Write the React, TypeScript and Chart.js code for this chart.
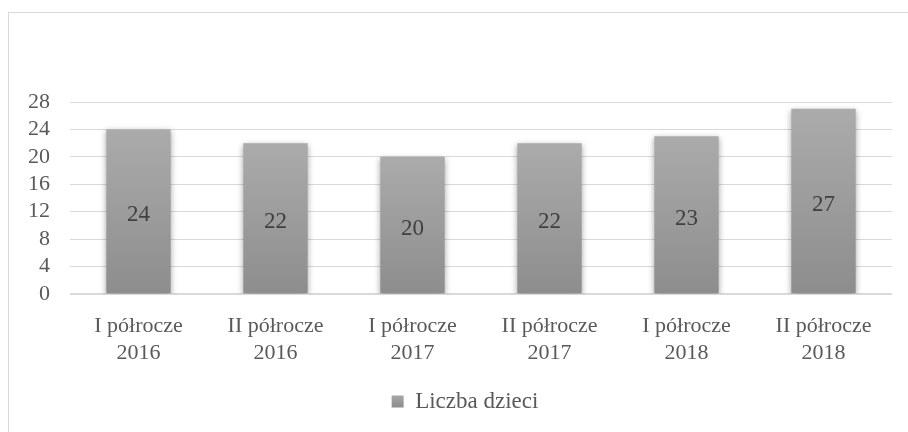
import React, { useEffect, useRef } from "react";
import { Chart, registerables } from "chart.js";

Chart.register(...registerables);

const categories: string[][] = [
  ["I półrocze", "2016"],
  ["II półrocze", "2016"],
  ["I półrocze", "2017"],
  ["II półrocze", "2017"],
  ["I półrocze", "2018"],
  ["II półrocze", "2018"],
];
const values: number[] = [24, 22, 20, 22, 23, 27];
const seriesName = "Liczba dzieci";
const yMin = 0;
const yMax = 28;
const yStep = 4;

const FONT = "'Liberation Serif', 'Times New Roman', serif";
Chart.defaults.font.family = FONT;

const shadowPlugin = {
  id: "barShadow",
  beforeDatasetDraw(chart: any) {
    const c = chart.ctx;
    c.save();
    c.shadowColor = "rgba(0,0,0,0.35)";
    c.shadowBlur = 6;
    c.shadowOffsetX = 0;
    c.shadowOffsetY = 2;
  },
  afterDatasetDraw(chart: any) {
    chart.ctx.restore();
  },
};

const legendShiftPlugin = {
  id: "legendShift",
  afterLayout(chart: any) {
    const lg = chart.legend;
    if (lg) {
      lg.left += 38;
    }
  },
};

const labelPlugin = {
  id: "valueLabels",
  afterDatasetsDraw(chart: any) {
    const c = chart.ctx;
    const meta = chart.getDatasetMeta(0);
    c.save();
    c.font = `23px ${FONT}`;
    c.fillStyle = "#404040";
    c.textAlign = "center";
    c.textBaseline = "middle";
    meta.data.forEach((el: any, i: number) => {
      const v = chart.data.datasets[0].data[i];
      c.fillText(String(v), el.x, (el.y + el.base) / 2 + 4);
    });
    c.restore();
  },
};

export default function App() {
  const ref = useRef<HTMLCanvasElement>(null);

  useEffect(() => {
    if (!ref.current) return;
    const chart = new Chart(ref.current, {
      type: "bar",
      data: {
        labels: categories,
        datasets: [
          {
            label: seriesName,
            data: values,
            backgroundColor: (ctx: any) => {
              const ch = ctx.chart;
              if (ctx.type !== "data" || !ch.chartArea) return "#9c9c9c";
              const ys = ch.scales.y;
              const top = ys.getPixelForValue(ctx.raw);
              const bottom = ys.getPixelForValue(0);
              const g = ch.ctx.createLinearGradient(0, top, 0, bottom);
              g.addColorStop(0, "#ababab");
              g.addColorStop(1, "#8d8d8d");
              return g;
            },
            borderWidth: 0,
            categoryPercentage: 0.94,
            barPercentage: 0.5,
          },
        ],
      },
      options: {
        responsive: false,
        maintainAspectRatio: false,
        animation: false,
        font: { family: FONT },
        layout: { padding: { top: 102, right: 16, bottom: 9, left: 0 } },
        plugins: {
          tooltip: { enabled: false },
          legend: {
            position: "bottom",
            labels: {
              boxWidth: 12,
              boxHeight: 12,
              padding: 10,
              color: "#595959",
              font: { family: FONT, size: 23 },
              generateLabels: (chart: any) => {
                const c = chart.ctx;
                const g = c.createLinearGradient(0, 394, 0, 407);
                g.addColorStop(0, "#ababab");
                g.addColorStop(1, "#8d8d8d");
                return [
                  {
                    text: seriesName,
                    fillStyle: g,
                    strokeStyle: "rgba(0,0,0,0)",
                    lineWidth: 0,
                    hidden: false,
                    datasetIndex: 0,
                    fontColor: "#595959",
                  },
                ];
              },
            },
          },
        },
        scales: {
          x: {
            grid: { display: false, drawTicks: false },
            border: { display: false },
            ticks: {
              color: "#595959",
              padding: 18,
              font: { family: FONT, size: 22, lineHeight: 1.25 },
              maxRotation: 0,
              autoSkip: false,
            },
            afterFit: (s: any) => {
              s.height = 86;
            },
          },
          y: {
            min: yMin,
            max: yMax,
            grid: {
              color: "#d9d9d9",
              lineWidth: (ctx: any) => (ctx.tick && ctx.tick.value === 0 ? 2 : 1),
              drawTicks: false,
            },
            border: { display: false },
            ticks: {
              stepSize: yStep,
              autoSkip: false,
              color: "#595959",
              padding: 20,
              font: { family: FONT, size: 22 },
            },
            afterFit: (s: any) => {
              s.width = 70;
            },
          },
        },
      },
      plugins: [shadowPlugin, labelPlugin, legendShiftPlugin],
    });
    return () => chart.destroy();
  }, []);

  return (
    <div
      style={{
        position: "fixed",
        left: 0,
        top: 0,
        width: 908,
        height: 432,
        background: "#ffffff",
        overflow: "hidden",
      }}
    >
      <div
        style={{
          position: "absolute",
          left: 8,
          top: 12,
          width: 1000,
          height: 1000,
          borderLeft: "1px solid #d9d9d9",
          borderTop: "1px solid #d9d9d9",
        }}
      />
      <canvas
        ref={ref}
        width={908}
        height={432}
        style={{ position: "absolute", left: 0, top: 0, width: 908, height: 432 }}
      />
    </div>
  );
}
